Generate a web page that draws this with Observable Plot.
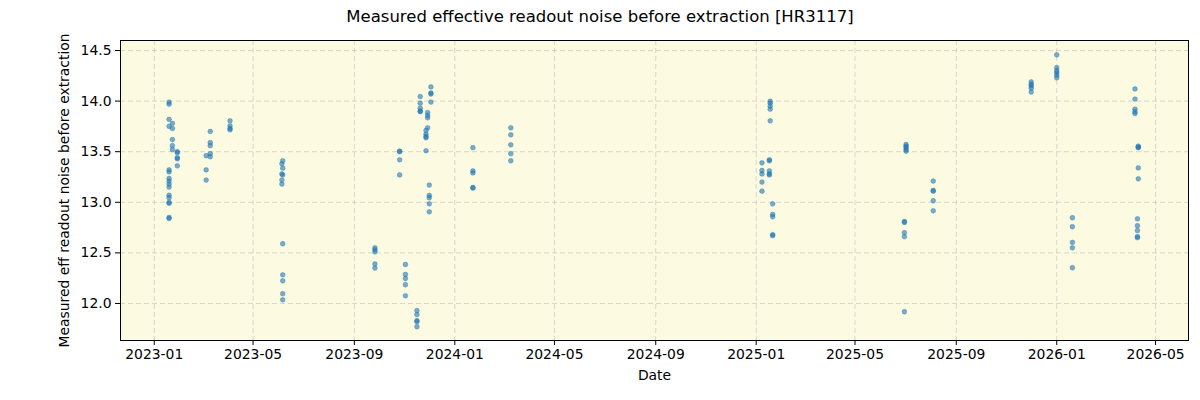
<!DOCTYPE html>
<html>
<head>
<meta charset="utf-8">
<script src="https://cdn.jsdelivr.net/npm/d3@7"></script>
<script src="https://cdn.jsdelivr.net/npm/@observablehq/plot@0.6"></script>
<style>
  body { margin: 0; background: #ffffff; font-family: "DejaVu Sans", sans-serif; }
  #title { height: 30px; line-height: 33px; text-align: center; font-size: 16.5px; color: #000; }
</style>
</head>
<body>
<div id="title">Measured effective readout noise before extraction [HR3117]</div>
<div id="chart"></div>
<script>
const groupDates = [
  "2023-01-19", "2023-01-23", "2023-01-29", "2023-03-05", "2023-03-10", "2023-04-03",
  "2023-06-05", "2023-06-06", "2023-09-26", "2023-10-26", "2023-11-02", "2023-11-16",
  "2023-11-20", "2023-11-27", "2023-11-29", "2023-12-01", "2023-12-03", "2024-01-23",
  "2024-03-09", "2025-01-08", "2025-01-17", "2025-01-18", "2025-01-21", "2025-06-30",
  "2025-07-02", "2025-08-04", "2025-12-01", "2026-01-01", "2026-01-20", "2026-04-06",
  "2026-04-09", "2026-04-10"
];
const groupValues = [
  [13.99, 13.97, 13.82, 13.75, 13.32, 13.30, 13.235, 13.21, 13.18, 13.15, 13.07, 13.045, 12.99, 13.0, 12.85, 12.84],
  [13.78, 13.73, 13.62, 13.56, 13.52],
  [13.50, 13.49, 13.44, 13.43, 13.36],
  [13.46, 13.32, 13.22],
  [13.70, 13.59, 13.56, 13.48, 13.45],
  [13.805, 13.756, 13.73, 13.716],
  [13.38, 13.28, 13.22, 13.18],
  [13.41, 13.337, 13.27, 12.59, 12.283, 12.224, 12.096, 12.036],
  [12.55, 12.53, 12.51, 12.39, 12.35],
  [13.505, 13.50, 13.42, 13.27],
  [12.385, 12.287, 12.247, 12.185, 12.076],
  [11.93, 11.89, 11.83, 11.82, 11.77],
  [14.045, 13.98, 13.93, 13.90, 13.897],
  [13.71, 13.673, 13.65, 13.637, 13.509],
  [13.887, 13.858, 13.835, 13.736],
  [13.17, 13.067, 13.045, 12.985, 12.906],
  [14.14, 14.08, 14.07, 13.99],
  [13.54, 13.31, 13.29, 13.146, 13.14],
  [13.736, 13.667, 13.568, 13.48, 13.41],
  [13.39, 13.314, 13.28, 13.20, 13.11],
  [13.42, 13.41, 13.31, 13.28, 13.27],
  [13.999, 13.98, 13.95, 13.92, 13.805],
  [12.985, 12.88, 12.857, 12.68, 12.67],
  [12.81, 12.80, 12.70, 12.66, 11.918],
  [13.571, 13.555, 13.54, 13.52, 13.505],
  [13.21, 13.117, 13.11, 13.015, 12.916],
  [14.19, 14.167, 14.15, 14.128, 14.09],
  [14.457, 14.33, 14.30, 14.28, 14.256, 14.23],
  [12.847, 12.758, 12.603, 12.55, 12.353],
  [14.12, 14.02, 13.92, 13.894, 13.877],
  [12.837, 12.768, 12.72, 12.66, 12.65],
  [13.555, 13.545, 13.54, 13.34, 13.232]
];
const xTickDates = ["2023-01-01", "2023-05-01", "2023-09-01", "2024-01-01", "2024-05-01", "2024-09-01",
  "2025-01-01", "2025-05-01", "2025-09-01", "2026-01-01", "2026-05-01"];
const yTicks = [12.0, 12.5, 13.0, 13.5, 14.0, 14.5];
const xDomain = ["2022-11-21", "2026-06-10"];
const yDomain = [11.634, 14.599];

const parse = d3.utcParse("%Y-%m-%d");
const data = [];
groupDates.forEach((d, i) => groupValues[i].forEach(v => data.push({date: parse(d), noise: v})));
const xt = xTickDates.map(parse);

const chart = Plot.plot({
  width: 1200,
  height: 370,
  marginLeft: 120,
  marginRight: 12,
  marginTop: 10,
  marginBottom: 60,
  style: {fontFamily: "DejaVu Sans, sans-serif", fontSize: "13.9px", color: "#000", background: "#ffffff"},
  x: {type: "utc", domain: xDomain.map(parse)},
  y: {domain: yDomain},
  marks: [
    Plot.frame({fill: "#fcfbe2", stroke: null}),
    Plot.gridX(xt, {stroke: "#b0b0b0", strokeOpacity: 0.6, strokeDasharray: "5,3", strokeWidth: 0.8}),
    Plot.gridY(yTicks, {stroke: "#b0b0b0", strokeOpacity: 0.6, strokeDasharray: "5,3", strokeWidth: 0.8}),
    Plot.dot(data, {x: "date", y: "noise", r: 2.4, fill: "#1f77b4", fillOpacity: 0.6, stroke: "#1f77b4", strokeOpacity: 0.6, strokeWidth: 0.6}),
    Plot.axisX(xt, {tickFormat: d3.utcFormat("%Y-%m"), tickSize: 5, tickPadding: 4, label: "Date", labelAnchor: "center", labelArrow: "none", labelOffset: 39, stroke: "#000", fontSize: 13.9}),
    Plot.axisY(yTicks, {tickFormat: d3.format(".1f"), tickSize: 5, tickPadding: 4, label: "Measured eff readout noise before extraction", labelAnchor: "center", labelArrow: "none", labelOffset: 61, stroke: "#000", fontSize: 13.9}),
    Plot.frame({stroke: "#000", strokeWidth: 1})
  ]
});
document.getElementById("chart").appendChild(chart);
</script>
</body>
</html>
